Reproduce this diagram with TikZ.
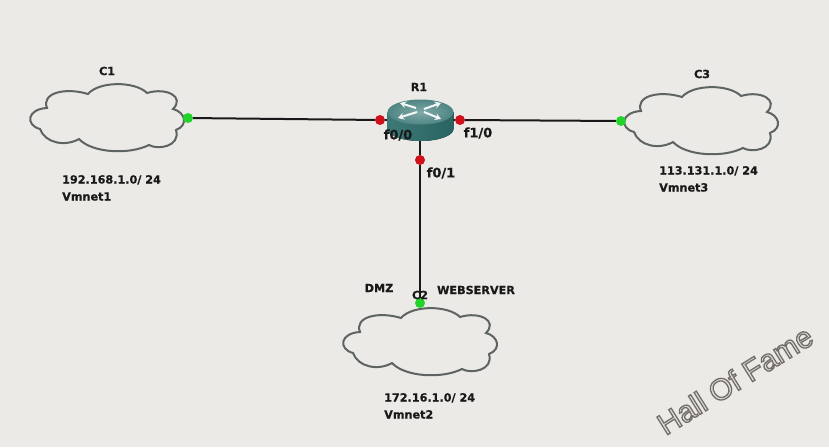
\documentclass[tikz,border=0pt]{standalone}
\usepackage{fontspec}
\setmainfont[BoldFeatures={FakeBold=0.5}]{DejaVu Sans}
\newfontfamily\markfont{Liberation Sans}
\usetikzlibrary{arrows.meta,
    positioning}
\definecolor{paper}{HTML}{ECEAE7}
\definecolor{cloudgray}{HTML}{5E6462}
\definecolor{routertop}{HTML}{7FAAA7}
\definecolor{routeredge}{HTML}{4F8583}
\definecolor{routerbody}{HTML}{3D7A77}
\definecolor{routerdark}{HTML}{2A6361}
\definecolor{portred}{HTML}{D0101A}
\definecolor{portgreen}{HTML}{22D42A}
\begin{document}
\begin{tikzpicture}[x=1pt, y=-1pt,
                  lbl/.style = {font=\bfseries\fontsize{11.2}{17}\selectfont, inner sep=0pt, text=black!90},
                  ifacelbl/.style = {lbl, font=\bfseries\fontsize{13}{17}\selectfont},
                  netlbl/.style = {lbl, anchor=north west, align=left},
                  port/.style = {circle, inner sep=0pt, minimum size=10pt},
                  redport/.style = {port, fill=portred},
                  greenport/.style = {port, fill=portgreen},
                  conn/.style = {line width=2pt, black!90},
                  arr/.style = {-{Stealth[length=6pt,width=7pt]}, line width=2pt, white!92!routertop},
                  netcloud/.pic = {
                      \draw[line width=2pt, cloudgray]
                      (-60,-9) .. controls (-66,-24) and (-42,-30) .. (-19,-23)
                      .. controls (-8,-36) and (28,-36) .. (40,-24)
                      .. controls (60,-30) and (78,-20) .. (66,-8)
                      .. controls (78,-5) and (82,8) .. (69,13)
                      .. controls (74,30) and (50,33) .. (42,28)
                      .. controls (22,38) and (-15,36) .. (-28,22)
                      .. controls (-42,30) and (-62,26) .. (-67,12)
                      .. controls (-82,8) and (-80,-8) .. cycle;
                  }
                  ]
                  \fill[paper] (0,0) rectangle (829,447);
                  \useasboundingbox (0,0) rectangle (829,447);
                  % clouds
                  \foreach \name/\x/\y in {c1/107/117, c3/701/120, c2/420/341}
                  \pic (\name) at (\x,\y) {netcloud};
                  % ports
                  \coordinate (r1) at (420,120);
                  \node (f00) [redport] at (380,120) {};
                  \node (f10) [redport] at (460,120) {};
                  \node (f01) [redport] at (420,160) {};
                  \node (c1port) [greenport] at (188,118) {};
                  \node (c3port) [greenport] at (621,121) {};
                  \node (c2port) [greenport] at (420,303) {};
                  \draw[conn] (r1) -- (f00);
                  \draw[conn] (r1) -- (f10);
                  \draw[conn] (r1) -- (f01);
                  \draw[conn] (f00) -- (c1port);
                  \draw[conn] (f10) -- (c3port);
                  \draw[conn] (f01) -- (c2port);
                  % router
                  \fill[left color=routerbody, right color=routerdark]
                  (387.5,112) -- (387.5,129) arc[start angle=180, end angle=360, x radius=33pt, y radius=12pt]
                  -- (453.5,112) -- cycle;
                  \shade[inner color=routertop, outer color=routeredge] (420.5,112) ellipse [x radius=33pt, y radius=12.5pt];
                  \draw[arr] (416,108) -- (400,103);
                  \draw[arr] (417,112) -- (398,118);
                  \draw[arr] (424,109) -- (441,103);
                  \draw[arr] (424,112) -- (441,119);
                  % labels
                  \node (r1lbl) [lbl] at (419,87) {R1};
                  \node (c1lbl) [lbl] at (107,71) {C1};
                  \node (c3lbl) [lbl] at (702,74) {C3};
                  \node (c2lbl) [lbl] at (420,295) {C2};
                  \node (dmz) [lbl] at (379,288) {DMZ};
                  \node (web) [lbl] at (476,290) {WEBSERVER};
                  \node (f00lbl) [ifacelbl] at (398,135) {f0/0};
                  \node (f10lbl) [ifacelbl] at (478,133) {f1/0};
                  \node (f01lbl) [ifacelbl] at (441,173) {f0/1};
                  \node (c1net) [netlbl] at (62,175) {192.168.1.0/ 24\\Vmnet1};
                  \node (c2net) [netlbl] at (384,393) {172.16.1.0/ 24\\Vmnet2};
                  \node (c3net) [netlbl] at (659,166) {113.131.1.0/ 24\\Vmnet3};
                  \node (hof) [rotate=32, inner sep=0pt, font=\markfont\fontsize{30}{30}\selectfont] at (735,380)
                  {\special{pdf:code 2 Tr 1.3 w 0.45 0.43 0.42 RG 0.88 0.87 0.85 rg}Hall Of Fame\special{pdf:code 0 Tr 0 g 0 G}};
              \end{tikzpicture}
\end{document}
